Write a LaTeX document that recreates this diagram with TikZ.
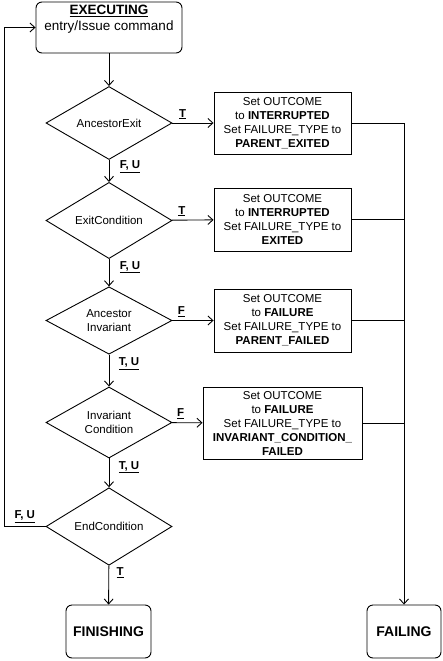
\documentclass[tikz,border=0pt]{standalone}
\usepackage{fontspec}
\setmainfont{Liberation Sans}
\usetikzlibrary{arrows.meta, shapes.geometric}
\newcommand{\fsz}[1]{\fontsize{#1}{14}\selectfont}
\newcommand{\lbl}[1]{\underline{\textbf{#1}}}

\begin{document}
\begin{tikzpicture}[x=1pt, y=-1pt, line width=0.9pt,
        >={Straight Barb[length=5pt, width=9pt]},
        state/.style={draw, rounded corners=6pt, minimum height=53, font=\fsz{14}\bfseries},
        cond/.style={diamond, draw, minimum width=126, minimum height=63, inner sep=0pt, align=center, font=\fsz{11.5}},
        action/.style={draw, minimum width=137, minimum height=63, inner sep=2pt, align=center, font=\fsz{11.5}},
        tag/.style={font=\fsz{11.5}}]
        \useasboundingbox (0, 0) rectangle (443, 661);

        \node[state, minimum width=146, minimum height=51, inner sep=3pt, font=\fontsize{13.5}{16}\selectfont] (exec) at (109, 27.5)
            {\parbox[c][45pt][t]{140pt}{\centering\lbl{EXECUTING}\\entry/Issue command}};
        \node[cond] (ancExit) at (109, 123) {AncestorExit};
        \node[cond] (exitCond) at (109, 220.5) {ExitCondition};
        \node[cond] (ancInv) at (109, 320.5) {Ancestor\\Invariant};
        \node[cond] (invCond) at (109, 422.5) {Invariant\\Condition};
        \node[cond] (endCond) at (109, 526.5) {EndCondition};
        \node[state, minimum width=85] (finishing) at (108.5, 631.5) {FINISHING};
        \node[state, minimum width=74] (failing) at (404, 631.5) {FAILING};

        \node[action, minimum height=62] (act1) at (282.5, 123) {Set OUTCOME\\to \textbf{INTERRUPTED}\\Set FAILURE\_TYPE to\\\textbf{PARENT\_EXITED}};
        \node[action] (act2) at (282.5, 219.5) {Set OUTCOME\\to \textbf{INTERRUPTED}\\Set FAILURE\_TYPE to\\\textbf{EXITED}};
        \node[action] (act3) at (282.5, 320.5) {Set OUTCOME\\to \textbf{FAILURE}\\Set FAILURE\_TYPE to\\\textbf{PARENT\_FAILED}};
        \node[action, minimum width=159, minimum height=72] (act4) at (282.5, 423) {Set OUTCOME\\to \textbf{FAILURE}\\Set FAILURE\_TYPE to\\\textbf{INVARIANT\_CONDITION\_}\\\textbf{FAILED}};

        \coordinate (loop) at (4, 526.5);

        % main column
        \draw[->] (exec) edge (ancExit);
        \draw[->] (ancExit) edge node[tag, right=7pt, pos=0.3]{\lbl{F, U}} (exitCond);
        \draw[->] (exitCond) edge node[tag, right=7pt, pos=0.3]{\lbl{F, U}} (ancInv);
        \draw[->] (ancInv) edge node[tag, right=6pt, pos=0.28]{\lbl{T, U}} (invCond);
        \draw[->] (invCond) edge node[tag, right=6pt, pos=0.3]{\lbl{T, U}} (endCond);
        \draw[->] (endCond) edge node[tag, right=4pt, pos=0.18]{\lbl{T}} (finishing);

        % branches
        \draw[->] (ancExit) edge node[tag, above, pos=0.25]{\lbl{T}} (act1);
        \draw[->] (exitCond) edge node[tag, above, pos=0.24]{\lbl{T}} (act2);
        \draw[->] (ancInv) edge node[tag, above, pos=0.22]{\lbl{F}} (act3);
        \draw[->] (invCond) edge node[tag, above, pos=0.28]{\lbl{F}} (act4);

        % to FAILING
        \draw[->] (act1) -| (failing);
        \draw (act2) -- (act2 -| failing);
        \draw (act3) -- (act3 -| failing);
        \draw (act4) -- (act4 -| failing);

        % back to EXECUTING
        \draw[->] (endCond.west) -- node[tag, above]{\lbl{F, U}} (loop) |- (exec.west);
\end{tikzpicture}
\end{document}
